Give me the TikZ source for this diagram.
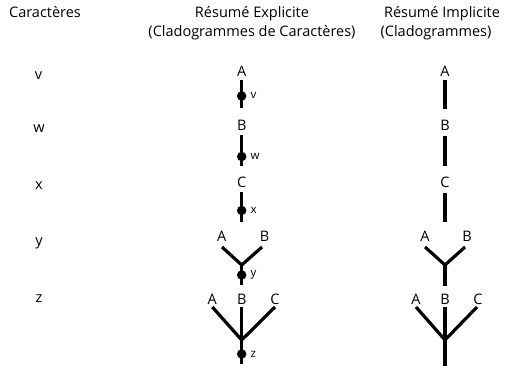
\documentclass[tikz,border=0pt]{standalone}
\usepackage{fontspec}
\setmainfont{Open Sans}
\begin{document}
\begin{tikzpicture}[x=1pt,y=-1pt,
  lbl/.style={font=\fontsize{14.5}{16}\selectfont, inner sep=0pt, anchor=base},
  small/.style={font=\fontsize{11.5}{13}\selectfont, inner sep=0pt, anchor=mid west},
  br/.style={line width=3.2pt},
  dotc/.style={circle, fill=black, inner sep=0pt, minimum size=9.5pt}]
\useasboundingbox (0,0) rectangle (506,366);
% headers
\node[lbl] (h1) at (45,17.3) {Caractères};
\node[lbl] (h2) at (252,17.3) {Résumé Explicite};
\node[lbl] (h2b) at (252,36.7) {(Cladogrammes de Caractères)};
\node[lbl] (h3) at (442,17.3) {Résumé Implicite};
\node[lbl] (h3b) at (436,36.7) {(Cladogrammes)};
% row labels
\node[lbl] (rv) at (38.5,80) {v};
\node[lbl] (rw) at (39,132.5) {w};
\node[lbl] (rx) at (39,190) {x};
\node[lbl] (ry) at (39,245) {y};
\node[lbl] (rz) at (39,302) {z};

% ---- explicit column
% v
\node[lbl] (eA1) at (241.7,76.7) {A};
\node[dotc] (ed1) at (241.7,96) {};
\node[small] (ev) at (250.5,96) {v};
\coordinate (e1t) at (241.7,80); \coordinate (e1b) at (241.7,108);
\draw[br] (e1t) -- (e1b);
% w
\node[lbl] (eB2) at (241.7,130.5) {B};
\node[dotc] (ed2) at (241.7,156.5) {};
\node[small] (ew) at (250.5,157) {w};
\coordinate (e2t) at (241.7,135); \coordinate (e2b) at (241.7,166);
\draw[br] (e2t) -- (e2b);
% x
\node[lbl] (eC3) at (241.7,188) {C};
\node[dotc] (ed3) at (241.7,210.5) {};
\node[small] (ex) at (250.5,211) {x};
\coordinate (e3t) at (241.7,192); \coordinate (e3b) at (241.7,222);
\draw[br] (e3t) -- (e3b);
% y
\node[lbl] (eA4) at (221.7,242) {A};
\node[lbl] (eB4) at (264.5,242) {B};
\coordinate (e4a) at (222,247); \coordinate (e4b) at (262,247);
\coordinate (e4j) at (241.7,265); \coordinate (e4s) at (241.7,285);
\draw[br] (e4a) -- (e4j) -- (e4b);
\draw[br] (e4j) -- (e4s);
\node[dotc] (ed4) at (241.7,275) {};
\node[small] (ey) at (250.5,274) {y};
% z
\node[lbl] (eA5) at (212.3,304.5) {A};
\node[lbl] (eB5) at (241.7,304.5) {B};
\node[lbl] (eC5) at (275,304.5) {C};
\coordinate (e5a) at (212.3,307); \coordinate (e5b) at (241.7,307);
\coordinate (e5c) at (275,307);
\coordinate (e5j) at (241.7,340); \coordinate (e5s) at (241.7,364);
\draw[br] (e5a) -- (e5j) -- (e5c);
\draw[br] (e5b) -- (e5s);
\node[dotc] (ed5) at (241.7,354) {};
\node[small] (ez) at (250.5,355) {z};

% ---- implicit column
\node[lbl] (iA1) at (445,76.7) {A};
\coordinate (i1t) at (445,80); \coordinate (i1b) at (445,109);
\draw[br] (i1t) -- (i1b);
\node[lbl] (iB2) at (445,130.5) {B};
\coordinate (i2t) at (445,136); \coordinate (i2b) at (445,166);
\draw[br] (i2t) -- (i2b);
\node[lbl] (iC3) at (445,188) {C};
\coordinate (i3t) at (445,193); \coordinate (i3b) at (445,222);
\draw[br] (i3t) -- (i3b);
\node[lbl] (iA4) at (425,242) {A};
\node[lbl] (iB4) at (467,242) {B};
\coordinate (i4a) at (425,247); \coordinate (i4b) at (465,247);
\coordinate (i4j) at (445,265); \coordinate (i4s) at (445,286);
\draw[br] (i4a) -- (i4j) -- (i4b);
\draw[br] (i4j) -- (i4s);
\node[lbl] (iA5) at (416,304) {A};
\node[lbl] (iB5) at (445,304) {B};
\node[lbl] (iC5) at (478,304) {C};
\coordinate (i5a) at (416,307); \coordinate (i5b) at (445,307);
\coordinate (i5c) at (477,307);
\coordinate (i5j) at (445,340); \coordinate (i5s) at (445,366);
\draw[br] (i5a) -- (i5j) -- (i5c);
\draw[br] (i5b) -- (i5s);
\end{tikzpicture}
\end{document}
